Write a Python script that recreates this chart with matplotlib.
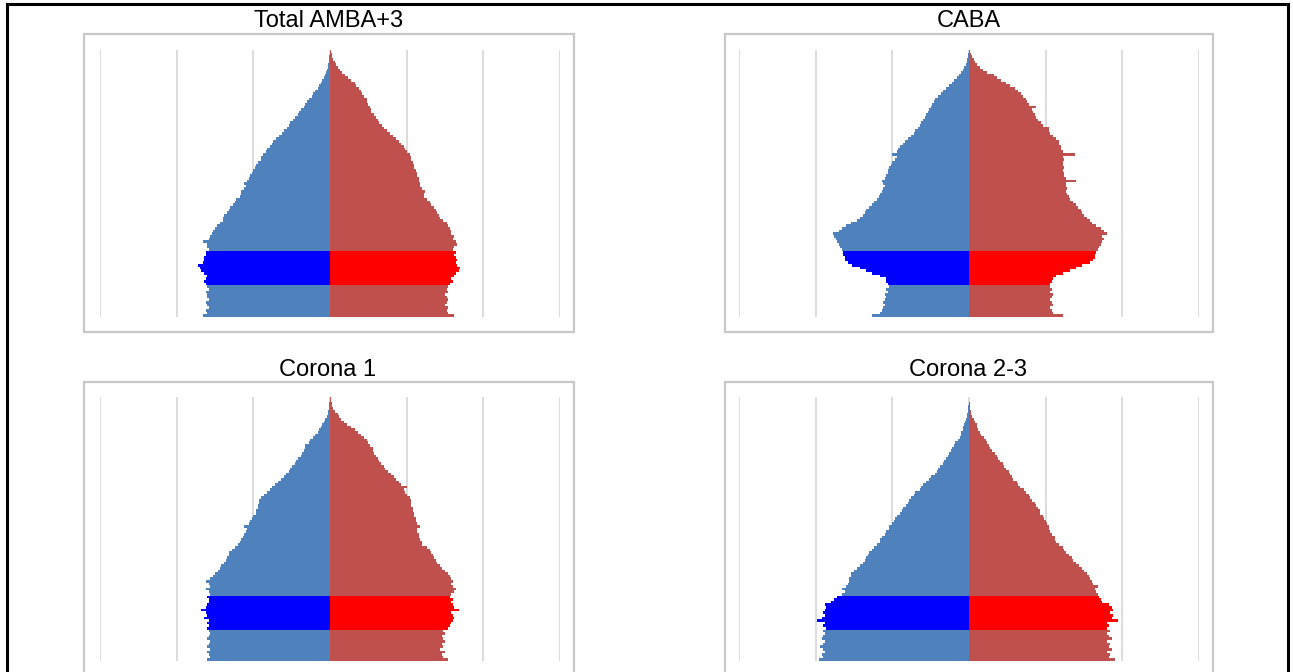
import matplotlib
matplotlib.use("Agg")
import matplotlib.pyplot as plt
from matplotlib.patches import Rectangle

W, H = 1293, 672

titles = ["Total AMBA+3", "CABA", "Corona 1", "Corona 2-3"]
ages = list(range(0, 101))
highlight_ages = list(range(12, 25))
x_ticks = [-1.5, -1.0, -0.5, 0.0, 0.5, 1.0, 1.5]

# share of population (%) by single year of age, 0..100
amba_male = [
    0.83, 0.80, 0.81, 0.79, 0.80, 0.81, 0.79, 0.80, 0.80, 0.81,
    0.79, 0.80, 0.81, 0.82, 0.81, 0.80, 0.82, 0.84, 0.85, 0.86,
    0.83, 0.82, 0.82, 0.81, 0.81, 0.79, 0.80, 0.80, 0.83, 0.79,
    0.78, 0.77, 0.76, 0.75, 0.74, 0.72, 0.70, 0.70, 0.69, 0.67,
    0.66, 0.65, 0.63, 0.62, 0.61, 0.59, 0.58, 0.58, 0.56, 0.55,
    0.56, 0.54, 0.53, 0.52, 0.51, 0.50, 0.49, 0.48, 0.47, 0.45,
    0.45, 0.44, 0.42, 0.41, 0.39, 0.38, 0.37, 0.35, 0.33, 0.31,
    0.30, 0.28, 0.27, 0.26, 0.24, 0.23, 0.21, 0.20, 0.19, 0.17,
    0.16, 0.15, 0.14, 0.12, 0.11, 0.10, 0.08, 0.07, 0.06, 0.05,
    0.04, 0.03, 0.025, 0.02, 0.015, 0.01, 0.008, 0.005, 0.004, 0.003, 0.002]
amba_female = [
    0.81, 0.77, 0.76, 0.77, 0.75, 0.76, 0.77, 0.76, 0.75, 0.77,
    0.76, 0.77, 0.78, 0.80, 0.79, 0.81, 0.82, 0.84, 0.85, 0.83,
    0.82, 0.83, 0.82, 0.81, 0.82, 0.80, 0.81, 0.83, 0.82, 0.80,
    0.81, 0.79, 0.79, 0.78, 0.77, 0.76, 0.74, 0.72, 0.71, 0.70,
    0.69, 0.68, 0.66, 0.65, 0.63, 0.61, 0.61, 0.62, 0.60, 0.59,
    0.59, 0.58, 0.58, 0.57, 0.57, 0.56, 0.55, 0.55, 0.54, 0.53,
    0.53, 0.52, 0.50, 0.49, 0.48, 0.46, 0.45, 0.43, 0.41, 0.39,
    0.37, 0.35, 0.34, 0.32, 0.31, 0.30, 0.29, 0.27, 0.265, 0.26,
    0.25, 0.24, 0.24, 0.22, 0.21, 0.20, 0.19, 0.17, 0.16, 0.14,
    0.12, 0.10, 0.08, 0.065, 0.05, 0.04, 0.03, 0.02, 0.015, 0.01, 0.005]

caba_male = [
    0.63, 0.58, 0.57, 0.56, 0.55, 0.56, 0.55, 0.54, 0.55, 0.53,
    0.54, 0.52, 0.53, 0.54, 0.54, 0.58, 0.63, 0.67, 0.71, 0.76,
    0.79, 0.81, 0.81, 0.82, 0.82, 0.83, 0.84, 0.85, 0.86, 0.87,
    0.88, 0.89, 0.85, 0.83, 0.80, 0.77, 0.73, 0.71, 0.69, 0.68,
    0.67, 0.65, 0.63, 0.62, 0.60, 0.59, 0.58, 0.57, 0.56, 0.55,
    0.56, 0.57, 0.55, 0.54, 0.53, 0.53, 0.52, 0.51, 0.50, 0.48,
    0.47, 0.50, 0.47, 0.46, 0.45, 0.43, 0.42, 0.40, 0.38, 0.36,
    0.35, 0.33, 0.32, 0.31, 0.30, 0.29, 0.28, 0.27, 0.26, 0.25,
    0.24, 0.23, 0.22, 0.20, 0.18, 0.17, 0.15, 0.13, 0.11, 0.10,
    0.08, 0.065, 0.05, 0.04, 0.03, 0.02, 0.015, 0.01, 0.007, 0.004, 0.002]
caba_female = [
    0.61, 0.55, 0.54, 0.53, 0.55, 0.54, 0.53, 0.54, 0.55, 0.53,
    0.54, 0.53, 0.53, 0.54, 0.55, 0.57, 0.61, 0.66, 0.70, 0.74,
    0.79, 0.81, 0.82, 0.82, 0.83, 0.84, 0.85, 0.86, 0.87, 0.88,
    0.87, 0.90, 0.88, 0.86, 0.83, 0.80, 0.79, 0.77, 0.75, 0.74,
    0.73, 0.71, 0.70, 0.68, 0.66, 0.65, 0.64, 0.63, 0.64, 0.63,
    0.63, 0.70, 0.63, 0.62, 0.62, 0.61, 0.62, 0.61, 0.61, 0.62,
    0.61, 0.69, 0.61, 0.60, 0.60, 0.59, 0.59, 0.57, 0.55, 0.53,
    0.52, 0.52, 0.48, 0.47, 0.45, 0.44, 0.43, 0.42, 0.41, 0.44,
    0.39, 0.38, 0.37, 0.35, 0.34, 0.32, 0.30, 0.27, 0.24, 0.21,
    0.18, 0.16, 0.12, 0.09, 0.07, 0.05, 0.04, 0.03, 0.02, 0.01, 0.005]

c1_male = [
    0.80, 0.78, 0.79, 0.80, 0.78, 0.80, 0.79, 0.78, 0.80, 0.79,
    0.78, 0.79, 0.80, 0.79, 0.80, 0.79, 0.82, 0.80, 0.81, 0.84,
    0.81, 0.80, 0.79, 0.79, 0.80, 0.78, 0.79, 0.81, 0.78, 0.79,
    0.81, 0.78, 0.76, 0.75, 0.73, 0.72, 0.71, 0.69, 0.68, 0.67,
    0.66, 0.66, 0.64, 0.62, 0.60, 0.59, 0.58, 0.57, 0.56, 0.55,
    0.54, 0.56, 0.53, 0.52, 0.51, 0.50, 0.48, 0.48, 0.47, 0.47,
    0.46, 0.46, 0.45, 0.43, 0.41, 0.39, 0.38, 0.36, 0.34, 0.32,
    0.30, 0.29, 0.27, 0.26, 0.25, 0.23, 0.22, 0.21, 0.19, 0.18,
    0.17, 0.16, 0.16, 0.14, 0.13, 0.11, 0.10, 0.08, 0.07, 0.06,
    0.05, 0.04, 0.03, 0.02, 0.015, 0.01, 0.008, 0.005, 0.004, 0.003, 0.002]
c1_female = [
    0.77, 0.74, 0.73, 0.75, 0.72, 0.74, 0.73, 0.75, 0.74, 0.73,
    0.75, 0.74, 0.77, 0.78, 0.79, 0.80, 0.81, 0.80, 0.79, 0.84,
    0.81, 0.80, 0.79, 0.80, 0.78, 0.79, 0.81, 0.82, 0.80, 0.79,
    0.80, 0.79, 0.78, 0.77, 0.75, 0.73, 0.72, 0.70, 0.69, 0.68,
    0.67, 0.66, 0.65, 0.63, 0.60, 0.60, 0.59, 0.58, 0.58, 0.57,
    0.57, 0.59, 0.57, 0.56, 0.56, 0.55, 0.55, 0.54, 0.54, 0.53,
    0.53, 0.53, 0.52, 0.50, 0.49, 0.48, 0.50, 0.46, 0.45, 0.43,
    0.42, 0.40, 0.38, 0.36, 0.35, 0.33, 0.32, 0.31, 0.30, 0.29,
    0.28, 0.28, 0.26, 0.25, 0.24, 0.22, 0.20, 0.18, 0.16, 0.14,
    0.11, 0.09, 0.07, 0.06, 0.05, 0.03, 0.02, 0.015, 0.01, 0.007, 0.004]

c23_male = [
    0.98, 0.95, 0.96, 0.94, 0.95, 0.97, 0.95, 0.94, 0.96, 0.95,
    0.94, 0.95, 0.93, 0.95, 0.94, 0.99, 0.96, 0.94, 0.95, 0.94,
    0.93, 0.94, 0.90, 0.88, 0.86, 0.83, 0.81, 0.83, 0.80, 0.79,
    0.78, 0.78, 0.77, 0.77, 0.75, 0.73, 0.71, 0.69, 0.68, 0.67,
    0.66, 0.65, 0.63, 0.62, 0.60, 0.58, 0.58, 0.57, 0.55, 0.54,
    0.52, 0.52, 0.50, 0.49, 0.48, 0.47, 0.45, 0.44, 0.43, 0.41,
    0.40, 0.39, 0.38, 0.36, 0.35, 0.32, 0.31, 0.30, 0.28, 0.26,
    0.25, 0.22, 0.21, 0.20, 0.19, 0.17, 0.16, 0.15, 0.14, 0.13,
    0.12, 0.11, 0.10, 0.09, 0.07, 0.06, 0.05, 0.05, 0.04, 0.04,
    0.03, 0.025, 0.02, 0.015, 0.01, 0.008, 0.006, 0.004, 0.003, 0.002, 0.001]
c23_female = [
    0.95, 0.91, 0.92, 0.90, 0.93, 0.91, 0.92, 0.90, 0.93, 0.91,
    0.90, 0.92, 0.90, 0.91, 0.90, 0.97, 0.93, 0.94, 0.92, 0.94,
    0.93, 0.91, 0.87, 0.86, 0.85, 0.84, 0.83, 0.82, 0.84, 0.81,
    0.80, 0.79, 0.78, 0.77, 0.75, 0.74, 0.72, 0.70, 0.68, 0.67,
    0.65, 0.63, 0.62, 0.61, 0.59, 0.57, 0.56, 0.56, 0.54, 0.53,
    0.52, 0.52, 0.51, 0.50, 0.49, 0.48, 0.46, 0.46, 0.45, 0.44,
    0.43, 0.41, 0.40, 0.39, 0.37, 0.36, 0.33, 0.32, 0.31, 0.29,
    0.28, 0.27, 0.26, 0.24, 0.23, 0.22, 0.20, 0.19, 0.18, 0.17,
    0.15, 0.14, 0.13, 0.12, 0.11, 0.10, 0.08, 0.07, 0.06, 0.05,
    0.05, 0.04, 0.03, 0.02, 0.015, 0.01, 0.008, 0.005, 0.004, 0.003, 0.002]

males = [amba_male, caba_male, c1_male, c23_male]
females = [amba_female, caba_female, c1_female, c23_female]

MALE_C, FEMALE_C = "#4F81BD", "#C0504D"
MALE_HI, FEMALE_HI = "#0000FF", "#FF0000"

# layout in pixels: (plot x0, y0, x1, y1), (box x0, y0, x1, y1), title (x, baseline y)
plots = [(100, 50, 560, 317), (739, 50, 1199, 317),
         (100, 397, 560, 661), (739, 397, 1199, 661)]
boxes = [(84, 34, 574, 332), (725, 34, 1213, 332),
         (84, 382, 574, 700), (725, 382, 1213, 700)]
title_pos = [(329, 27), (969, 27), (328, 376), (968, 376)]

fig = plt.figure(figsize=(W / 100, H / 100), dpi=100)
fig.patch.set_facecolor("white")

def frect(x0, y0, x1, y1):
    return [x0 / W, 1 - y1 / H, (x1 - x0) / W, (y1 - y0) / H]

# outer black frame
fig.patches.append(Rectangle((7 / W, 1 - 700 / H), (1288 - 7) / W, (700 - 4) / H,
                             transform=fig.transFigure, fill=False,
                             edgecolor="black", linewidth=2.2, zorder=0))

for i in range(4):
    bx = boxes[i]
    fig.patches.append(Rectangle((bx[0] / W, 1 - bx[3] / H), (bx[2] - bx[0]) / W,
                                 (bx[3] - bx[1]) / H, transform=fig.transFigure,
                                 fill=False, edgecolor="#C8C8C8", linewidth=1.6, zorder=0))
    ax = fig.add_axes(frect(*plots[i]))
    mcol = [MALE_HI if a in highlight_ages else MALE_C for a in ages]
    fcol = [FEMALE_HI if a in highlight_ages else FEMALE_C for a in ages]
    ax.barh(ages, [-v for v in males[i]], height=1.0, color=mcol, linewidth=0, zorder=2)
    ax.barh(ages, females[i], height=1.0, color=fcol, linewidth=0, zorder=2)
    ax.set_xlim(-1.5, 1.5)
    ax.set_ylim(-0.5, 100.5)
    ax.set_xticks(x_ticks)
    ax.set_yticks([])
    ax.tick_params(axis="x", length=0, labelbottom=False)
    ax.grid(axis="x", color="#D9D9D9", linewidth=1.3, zorder=0)
    ax.set_axisbelow(True)
    for s in ax.spines.values():
        s.set_visible(False)
    ax.patch.set_alpha(0)
    tx, ty = title_pos[i]
    fig.text(tx / W, 1 - ty / H, titles[i], ha="center", va="baseline",
             fontsize=17, family=["Liberation Sans", "DejaVu Sans"], color="black")

fig.savefig("out.png", dpi=100, facecolor="white")
